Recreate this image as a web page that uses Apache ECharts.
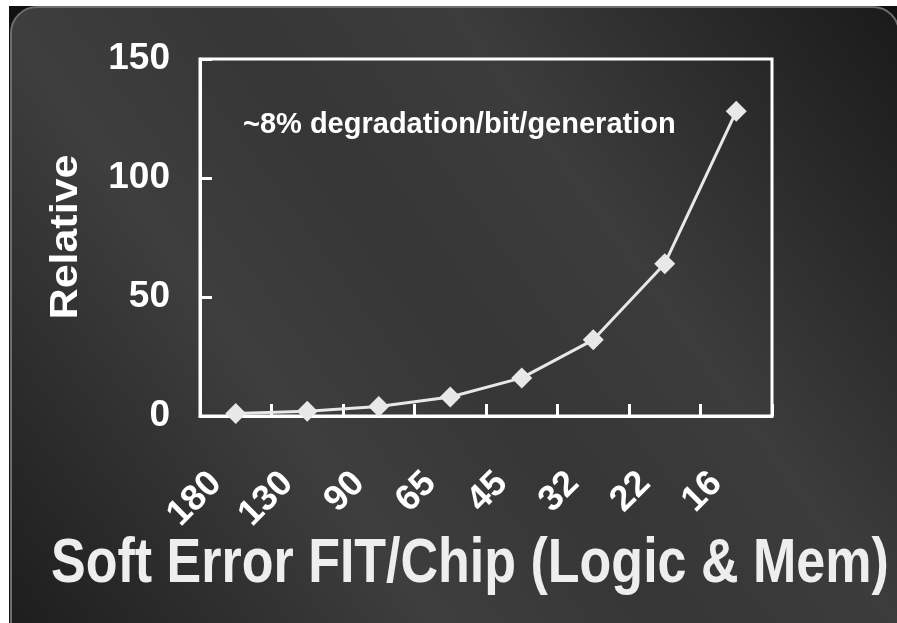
<!DOCTYPE html>
<html>
<head>
<meta charset="utf-8">
<script src="https://cdn.jsdelivr.net/npm/echarts@6/dist/echarts.min.js"></script>
<style>
html,body{margin:0;padding:0;background:#fff;}
#c{width:897px;height:623px;}
</style>
</head>
<body>
<div id="c"></div>
<script>
const categories = ['180','130','90','65','45','32','22','16'];
const relativeValues = [1, 2, 4, 8, 16, 32, 64, 128];
const yTicks = {min: 0, max: 150, interval: 50};
const annotation = '~8% degradation/bit/generation';
const yName = 'Relative';
const xName = 'Soft Error FIT/Chip (Logic & Mem)';

const FONT = '"Liberation Sans", Arial, Helvetica, sans-serif';
const chart = echarts.init(document.getElementById('c'), null, {renderer: 'canvas'});
chart.setOption({
  animation: false,
  backgroundColor: '#ffffff',
  graphic: [
    {type: 'rect', z: -100, silent: true, shape: {x: 9, y: 6, width: 900, height: 630}, style: {fill: '#111111'}},
    {type: 'rect', z: -99, silent: true,
      shape: {x: 11, y: 7, width: 888, height: 640, r: 26},
      style: {
        fill: {type: 'linear', x: 0, y: 1, x2: 1, y2: 0, colorStops: [
          {offset: 0, color: '#1c1c1c'},
          {offset: 0.33, color: '#3e3e3e'},
          {offset: 0.5, color: '#363636'},
          {offset: 0.67, color: '#3c3c3c'},
          {offset: 1, color: '#1a1a1a'}
        ]},
        stroke: '#6e6e6e', lineWidth: 2
      }
    },
    {type: 'text', x: 243, y: 125, z: 10,
      style: {text: annotation, fill: '#ffffff', font: 'bold 29px ' + FONT, verticalAlign: 'middle', align: 'left'}},
    {type: 'text', x: 51, y: 565, scaleY: 1.2, z: 10,
      style: {text: xName, fill: '#eeeeee', font: 'bold 52px ' + FONT, verticalAlign: 'middle', align: 'left'}},
    {type: 'text', x: 66, y: 237, rotation: Math.PI / 2, scaleX: 1.1, z: 10,
      style: {text: yName, fill: '#ffffff', font: 'bold 39px ' + FONT, verticalAlign: 'middle', align: 'center'}}
  ],
  grid: {left: 200, right: 125, top: 59, bottom: 207, outerBoundsMode: 'none', containLabel: false,
    show: true, borderColor: '#ffffff', borderWidth: 3, backgroundColor: 'transparent'},
  xAxis: {
    type: 'category', data: categories, boundaryGap: true,
    axisLine: {show: true, lineStyle: {color: '#ffffff', width: 3}},
    axisTick: {show: true, inside: true, length: 12, interval: 0, alignWithLabel: false, lineStyle: {color: '#ffffff', width: 3}},
    axisLabel: {rotate: 45, interval: 0, margin: 42, padding: [0, 28, 0, 0], color: '#ffffff', fontSize: 36, fontWeight: 'bold', fontFamily: FONT},
    splitLine: {show: false}
  },
  yAxis: {
    type: 'value', min: yTicks.min, max: yTicks.max, interval: yTicks.interval,
    axisLine: {show: true, lineStyle: {color: '#ffffff', width: 3}},
    axisTick: {show: true, inside: true, length: 12, lineStyle: {color: '#ffffff', width: 3}},
    axisLabel: {margin: 30, color: '#ffffff', fontSize: 37, fontWeight: 'bold', fontFamily: FONT},
    splitLine: {show: false}
  },
  series: [{
    type: 'line', data: relativeValues,
    symbol: 'diamond', symbolSize: 21,
    lineStyle: {color: '#e8e8e8', width: 3},
    itemStyle: {color: '#e8e8e8'},
    z: 5
  }]
});
</script>
</body>
</html>
